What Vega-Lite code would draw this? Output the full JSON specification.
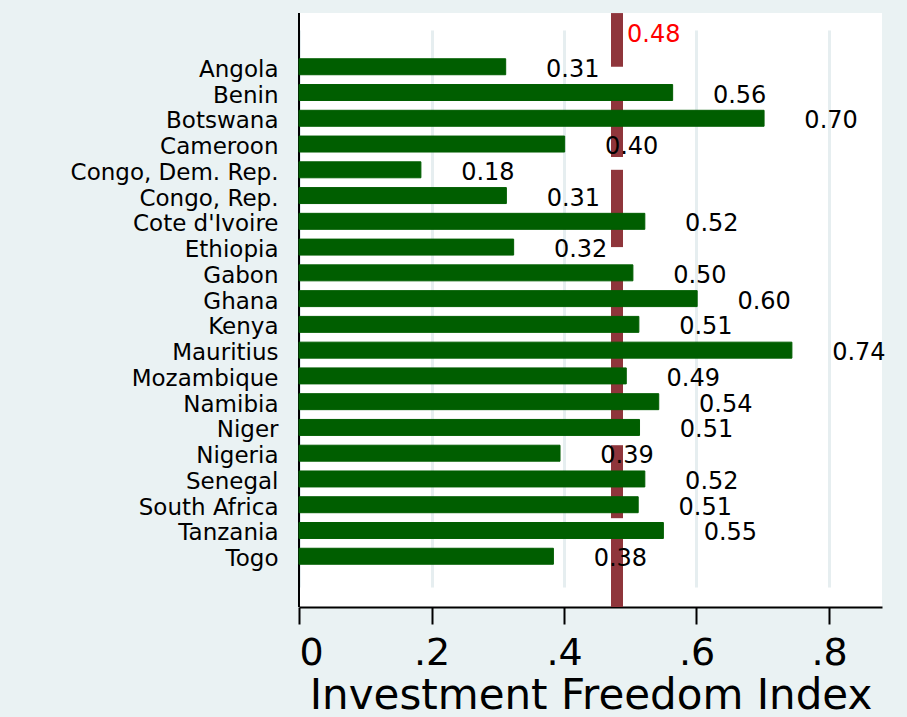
{
  "$schema": "https://vega.github.io/schema/vega-lite/v6.json",
  "width": 583,
  "height": 594,
  "autosize": {"type": "none"},
  "padding": {"left": 299, "top": 13, "right": 25, "bottom": 110},
  "background": "#EAF2F3",
  "config": {
    "view": {"fill": "white", "stroke": null},
    "font": "DejaVu Sans"
  },
  "datasets": {
    "countries": [
      {"country": "Angola", "ifi": 0.312},
      {"country": "Benin", "ifi": 0.564},
      {"country": "Botswana", "ifi": 0.702},
      {"country": "Cameroon", "ifi": 0.401},
      {"country": "Congo, Dem. Rep.", "ifi": 0.184},
      {"country": "Congo, Rep.", "ifi": 0.313},
      {"country": "Cote d'Ivoire", "ifi": 0.522},
      {"country": "Ethiopia", "ifi": 0.324},
      {"country": "Gabon", "ifi": 0.504},
      {"country": "Ghana", "ifi": 0.601},
      {"country": "Kenya", "ifi": 0.513},
      {"country": "Mauritius", "ifi": 0.744},
      {"country": "Mozambique", "ifi": 0.494},
      {"country": "Namibia", "ifi": 0.543},
      {"country": "Niger", "ifi": 0.514},
      {"country": "Nigeria", "ifi": 0.394},
      {"country": "Senegal", "ifi": 0.522},
      {"country": "South Africa", "ifi": 0.512},
      {"country": "Tanzania", "ifi": 0.55},
      {"country": "Togo", "ifi": 0.384}
    ],
    "mean": [{"mean_ifi": 0.48, "origin": 0}]
  },
  "layer": [
    {
      "data": {"name": "mean"},
      "mark": {"type": "rule", "color": "#8F353B", "strokeWidth": 12},
      "encoding": {
        "x": {"field": "mean_ifi", "type": "quantitative"},
        "y": {"datum": "Angola", "bandPosition": -2.86},
        "y2": {"datum": "Angola", "bandPosition": 0.5}
      }
    },
    {
      "data": {"name": "mean"},
      "mark": {"type": "rule", "color": "#8F353B", "strokeWidth": 12},
      "encoding": {
        "x": {"field": "mean_ifi", "type": "quantitative"},
        "y": {"datum": "Benin", "bandPosition": 0.5},
        "y2": {"datum": "Cameroon", "bandPosition": 1.31}
      }
    },
    {
      "data": {"name": "mean"},
      "mark": {"type": "rule", "color": "#8F353B", "strokeWidth": 12},
      "encoding": {
        "x": {"field": "mean_ifi", "type": "quantitative"},
        "y": {"datum": "Congo, Dem. Rep.", "bandPosition": 0.5},
        "y2": {"datum": "Ethiopia", "bandPosition": 0.5}
      }
    },
    {
      "data": {"name": "mean"},
      "mark": {"type": "rule", "color": "#8F353B", "strokeWidth": 12},
      "encoding": {
        "x": {"field": "mean_ifi", "type": "quantitative"},
        "y": {"datum": "Gabon", "bandPosition": 0.5},
        "y2": {"datum": "Niger", "bandPosition": 0.5}
      }
    },
    {
      "data": {"name": "mean"},
      "mark": {"type": "rule", "color": "#8F353B", "strokeWidth": 12},
      "encoding": {
        "x": {"field": "mean_ifi", "type": "quantitative"},
        "y": {"datum": "Nigeria", "bandPosition": 0},
        "y2": {"datum": "Tanzania", "bandPosition": -0.27}
      }
    },
    {
      "data": {"name": "mean"},
      "mark": {"type": "rule", "color": "#8F353B", "strokeWidth": 12},
      "encoding": {
        "x": {"field": "mean_ifi", "type": "quantitative"},
        "y": {"datum": "Tanzania", "bandPosition": 0.5},
        "y2": {"datum": "Tanzania", "bandPosition": 5.29}
      }
    },
    {
      "data": {"name": "mean"},
      "mark": {"type": "rule", "color": "#000000", "strokeWidth": 2},
      "encoding": {
        "x": {"field": "origin", "type": "quantitative"}
      }
    },
    {
      "data": {"name": "countries"},
      "mark": {"type": "bar", "color": "#005E00", "stroke": "#005E00", "strokeWidth": 1},
      "encoding": {
        "y": {
          "field": "country",
          "type": "nominal",
          "sort": null,
          "scale": {
            "domain": ["Angola", "Benin", "Botswana", "Cameroon", "Congo, Dem. Rep.", "Congo, Rep.", "Cote d'Ivoire", "Ethiopia", "Gabon", "Ghana", "Kenya", "Mauritius", "Mozambique", "Namibia", "Niger", "Nigeria", "Senegal", "South Africa", "Tanzania", "Togo"],
            "paddingInner": 0.38,
            "paddingOuter": 1,
            "range": [20, 577]
          },
          "axis": {
            "title": null,
            "ticks": false,
            "domain": false,
            "labelFont": "DejaVu Sans",
            "labelFontSize": 23,
            "labelColor": "#000000",
            "labelPadding": 21,
            "labelOffset": 3,
            "labelLimit": 400,
            "grid": false
          }
        },
        "x": {
          "field": "ifi",
          "type": "quantitative",
          "scale": {"domain": [0, 0.88], "nice": false, "zero": true},
          "axis": {
            "title": "Investment Freedom Index",
            "values": [0, 0.2, 0.4, 0.6, 0.8],
            "labelExpr": "datum.value == 0 ? '0' : replace(format(datum.value, '.1f'), '0.', '.')",
            "labelFont": "DejaVu Sans",
            "labelFontSize": 38,
            "labelColor": "#000000",
            "labelPadding": 10,
            "tickSize": 17,
            "tickWidth": 2,
            "tickColor": "#000000",
            "domainColor": "#000000",
            "domainWidth": 2,
            "grid": true,
            "gridColor": "#E6EEF0",
            "gridWidth": 3,
            "titleFont": "DejaVu Sans",
            "titleFontSize": 42,
            "titleFontWeight": "normal",
            "titleColor": "#000000",
            "titleBaseline": "alphabetic",
            "titleY": 101
          }
        }
      }
    },
    {
      "data": {"name": "countries"},
      "mark": {"type": "text", "align": "center", "baseline": "middle", "dx": 67, "dy": 3, "fontSize": 24, "font": "DejaVu Sans", "color": "#000000"},
      "encoding": {
        "y": {"field": "country", "type": "nominal", "sort": null},
        "x": {"field": "ifi", "type": "quantitative"},
        "text": {"field": "ifi", "type": "quantitative", "format": ".2f"}
      }
    },
    {
      "data": {"name": "mean"},
      "mark": {"type": "text", "align": "left", "baseline": "middle", "dx": 10, "dy": -32, "fontSize": 24, "font": "DejaVu Sans", "color": "#FF0000"},
      "encoding": {
        "x": {"field": "mean_ifi", "type": "quantitative"},
        "y": {"datum": "Angola"},
        "text": {"field": "mean_ifi", "type": "quantitative", "format": ".2f"}
      }
    }
  ]
}
